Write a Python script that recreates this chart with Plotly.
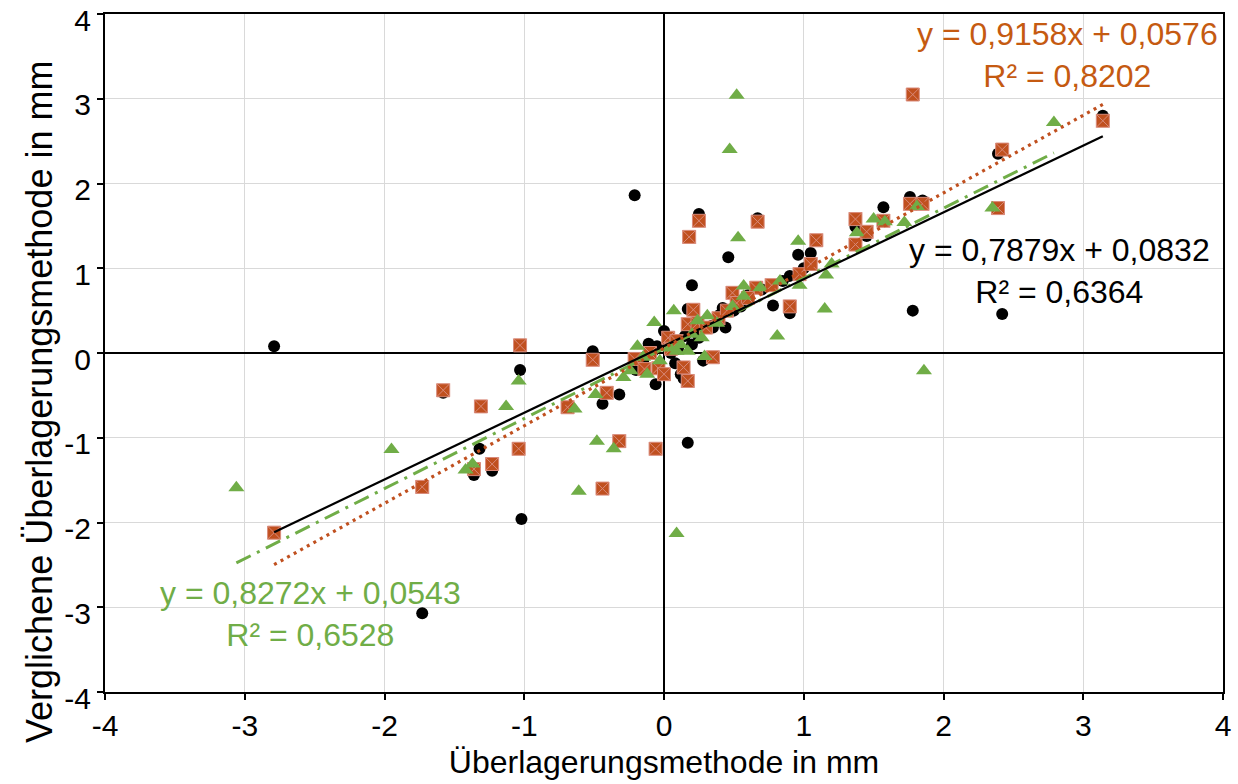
import plotly.graph_objects as go

# ---- data ----
black_x = [-2.79, -1.73, -1.58, -1.36, -1.32, -1.23, -1.03, -1.02, -0.51, -0.44, -0.32, -0.21,
           -0.11, -0.06, -0.05, 0.00, 0.00, 0.08, 0.14, 0.17, 0.17, 0.20, 0.25, 0.28, 0.30, 0.34,
           0.35, 0.42, 0.44, 0.46, 0.50, 0.55, 0.60, 0.67, 0.70, 0.78, 0.85, 0.90, 0.90, 0.96,
           1.05, 1.00, 1.37, 1.45, 1.57, 1.76, 1.78, 1.85, 2.39, 2.42, 3.14,
           0.10, 0.15, -0.15, 0.20, 0.05, -0.20, 0.22, 0.25, -0.08, 0.12, 0.40]
black_y = [0.08, -3.07, -0.47, -1.44, -1.13, -1.39, -0.20, -1.96, 0.02, -0.60, -0.49, 1.86,
           0.11, -0.37, 0.08, 0.26, -0.25, -0.12, -0.30, -1.06, 0.52, 0.80, 1.64, -0.09, -0.05, 0.32,
           0.30, 0.53, 0.30, 1.13, 0.50, 0.55, 0.68, 1.59, 0.75, 0.56, 0.85, 0.47, 0.91, 1.16,
           1.18, 1.00, 1.49, 1.38, 1.72, 1.84, 0.50, 1.80, 2.35, 0.46, 2.80,
           0.05, 0.20, -0.10, 0.10, 0.00, -0.20, 0.25, 0.18, 0.02, -0.25, 0.45]

orange_x = [-2.79, -1.73, -1.58, -1.36, -1.31, -1.23, -1.04, -1.03, -0.69, -0.51, -0.44, -0.41,
            -0.32, -0.21, -0.14, -0.06, -0.04, 0.00, 0.03, 0.09, 0.14, 0.17, 0.17, 0.18, 0.21,
            0.24, 0.25, 0.35, 0.39, 0.49, 0.52, 0.66, 0.67, 0.77, 0.90, 0.97, 1.05, 1.09, 1.37,
            1.37, 1.45, 1.57, 1.76, 1.78, 1.85, 2.39, 2.42, 3.14,
            0.05, -0.10, 0.30, 0.45, 0.60]
orange_y = [-2.12, -1.58, -0.44, -1.37, -0.63, -1.31, -1.13, 0.09, -0.64, -0.08, -1.60, -0.47,
            -1.04, -0.07, -0.19, -1.13, -0.18, -0.25, 0.18, 0.14, -0.17, -0.33, 0.34, 1.37, 0.51,
            0.35, 1.56, -0.05, 0.41, 0.71, 0.59, 0.77, 1.55, 0.80, 0.55, 0.93, 1.05, 1.33, 1.28,
            1.58, 1.43, 1.56, 1.76, 3.05, 1.76, 1.71, 2.40, 2.74,
            0.05, 0.00, 0.30, 0.50, 0.65]

green_x = [-3.06, -1.95, -1.42, -1.37, -1.13, -1.04, -0.64, -0.61, -0.49, -0.48, -0.36, -0.29,
           -0.24, -0.19, -0.12, -0.07, -0.03, 0.04, 0.07, 0.09, 0.09, 0.17, 0.24, 0.27, 0.29,
           0.31, 0.47, 0.49, 0.52, 0.53, 0.57, 0.57, 0.69, 0.81, 0.83, 0.96, 0.97, 1.15, 1.16,
           1.20, 1.38, 1.50, 1.58, 1.72, 1.81, 1.86, 2.35, 2.79,
           0.12, -0.15, 0.20, 0.38]
green_y = [-1.59, -1.14, -1.38, -1.31, -0.63, -0.33, -0.66, -1.63, -0.49, -1.04, -1.13, -0.29,
           -0.21, 0.08, -0.25, 0.36, -0.09, 0.06, 0.50, 0.02, -2.13, 0.02, 0.38, 0.18, -0.04,
           0.44, 2.40, 0.55, 3.04, 1.36, 0.79, 0.67, 0.77, 0.20, 0.85, 1.32, 0.80, 0.52, 0.92,
           1.05, 1.42, 1.58, 1.55, 1.54, 1.73, -0.21, 1.71, 2.72,
           0.10, -0.05, 0.22, 0.35]

# trend line coefficients shown in the chart
black_fit = (0.7879, 0.0832, "0,6364")
orange_fit = (0.9158, 0.0576, "0,8202")
green_fit = (0.8272, 0.0543, "0,6528")

tick_vals = [-4, -3, -2, -1, 0, 1, 2, 3, 4]
tick_text = ["-4", "-3", "-2", "-1", "0", "1", "2", "3", "4"]

BLACK = "#000000"
ORANGE = "#C0501F"
ORANGE_TXT = "#C55A11"
GREEN = "#70AD47"
FONT = "Liberation Sans, Arial, sans-serif"

fig = go.Figure()

fig.add_trace(go.Scatter(x=black_x, y=black_y, mode="markers",
                         marker=dict(symbol="circle", size=12, color=BLACK)))
fig.add_trace(go.Scatter(x=orange_x, y=orange_y, mode="markers",
                         marker=dict(symbol="square-x", size=13, color=ORANGE,
                                     line=dict(color="#D98A7A", width=1))))
fig.add_trace(go.Scatter(x=green_x, y=green_y, mode="markers",
                         marker=dict(symbol="triangle-up", size=14, color=GREEN,
                                     line=dict(width=0))))


def trend(xs, fit):
    a, b, _ = fit
    x0, x1 = min(xs), max(xs)
    return [x0, x1], [a * x0 + b, a * x1 + b]


tx, ty = trend(green_x, green_fit)
fig.add_trace(go.Scatter(x=tx, y=ty, mode="lines",
                         line=dict(color=GREEN, width=3, dash="16px,7px,3px,7px")))
tx, ty = trend(black_x, black_fit)
fig.add_trace(go.Scatter(x=tx, y=ty, mode="lines", line=dict(color=BLACK, width=2.2)))
tx, ty = trend(orange_x, orange_fit)
fig.add_trace(go.Scatter(x=tx, y=ty, mode="lines",
                         line=dict(color=ORANGE, width=3.2, dash="3px,4.5px")))


def eq_text(fit):
    a, b, r2 = fit
    return ("y = " + f"{a:.4f}".replace(".", ",") + "x + " + f"{b:.4f}".replace(".", ",")
            + "<br>R² = " + r2)


annots = [
    (2.89, 3.52, orange_fit, ORANGE_TXT),
    (2.83, 0.97, black_fit, BLACK),
    (-2.53, -3.08, green_fit, GREEN),
]
for ax_, ay_, fit, col in annots:
    fig.add_annotation(x=ax_, y=ay_, xref="x", yref="y", text=eq_text(fit), showarrow=False,
                       align="center", font=dict(family=FONT, size=32, color=col))

# y-axis title (placed like the reference, centred on the chart height)
fig.add_annotation(x=-0.058, y=0.428, xref="paper", yref="paper",
                   text="Verglichene Überlagerungsmethode in mm", textangle=-90,
                   showarrow=False, xanchor="center", yanchor="middle",
                   font=dict(family=FONT, size=36, color=BLACK))

axis_common = dict(
    range=[-4, 4], tickmode="array", tickvals=tick_vals, ticktext=tick_text,
    showgrid=True, gridcolor="#D9D9D9", gridwidth=1,
    zeroline=True, zerolinecolor=BLACK,
    showline=True, linecolor=BLACK, linewidth=2, mirror=True,
    ticks="outside", ticklen=6, tickwidth=2, tickcolor=BLACK,
    tickfont=dict(family=FONT, size=30, color=BLACK),
    ticklabeloverflow="allow", automargin=False,
)

fig.update_xaxes(**axis_common, zerolinewidth=1.5,
                 title=dict(text="Überlagerungsmethode in mm", standoff=10,
                            font=dict(family=FONT, size=32, color=BLACK)))
fig.update_yaxes(**axis_common, zerolinewidth=2, ticklabelshift=6)

fig.update_layout(
    width=1238, height=784,
    margin=dict(l=105, r=15, t=14, b=92),
    paper_bgcolor="white", plot_bgcolor="white",
    showlegend=False,
    font=dict(family=FONT),
)

fig.write_html("out.html")
